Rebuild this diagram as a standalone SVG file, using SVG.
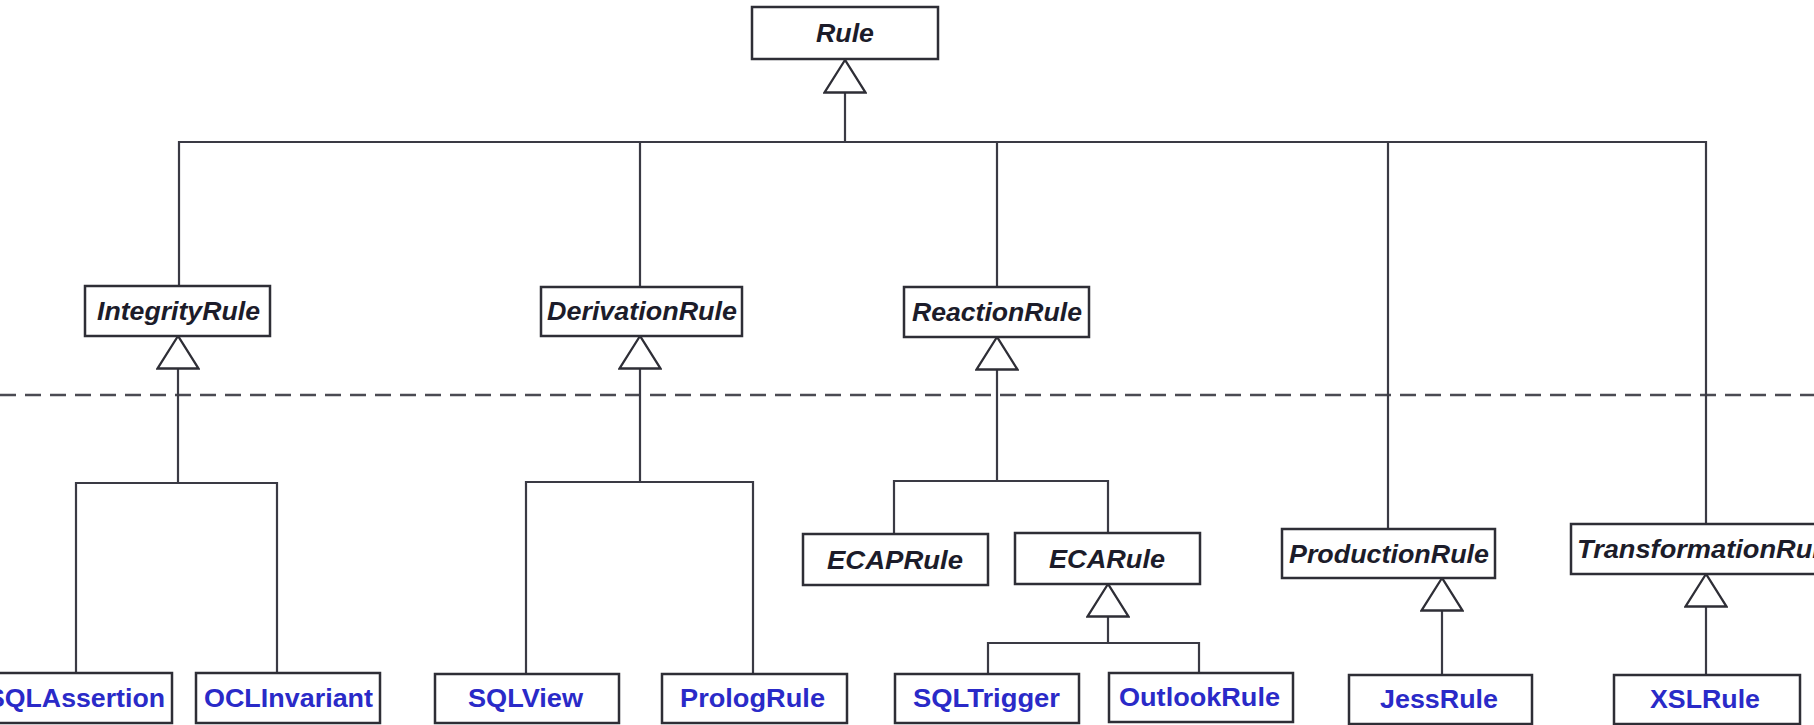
<svg xmlns="http://www.w3.org/2000/svg" width="1814" height="725" viewBox="0 0 1814 725">
  <style>
    .box { fill: #ffffff; stroke: #2e2e36; stroke-width: 2.5; }
    .abs { font-family: "Liberation Sans", Arial, sans-serif; font-size: 26px; font-weight: bold; font-style: italic; fill: #1c1c2a; text-anchor: middle; }
    .impl { font-family: "Liberation Sans", Arial, sans-serif; font-size: 26px; font-weight: bold; fill: #2a2ac8; text-anchor: middle; }
    .link { fill: none; stroke: #3a3a44; stroke-width: 2.2; }
    .gen { fill: none; stroke: #3a3a44; stroke-width: 2.2; marker-end: url(#inherit); }
    .layer { fill: none; stroke: #4a4a52; stroke-width: 2.5; stroke-dasharray: 16 9; }
  </style>
  <defs>
    <!-- hollow UML generalization triangle, tip at the line end -->
    <marker id="inherit" markerUnits="userSpaceOnUse" markerWidth="40" markerHeight="44" viewBox="-33 -21 35 42" refX="0" refY="0" orient="auto">
      <path d="M0,0 L-31,-19.5 L-31,19.5 Z" fill="#ffffff" stroke="#2e2e36" stroke-width="2.2"/>
    </marker>
  </defs>

  <rect width="1814" height="725" fill="#ffffff"/>

  <!-- layer separator -->
  <line class="layer" x1="0" y1="395" x2="1814" y2="395"/>

  <g id="connectors">
    <!-- Rule hierarchy -->
    <path class="gen" d="M845,142 V60"/>
    <path class="link" d="M179,286 V142 H1706 V524"/>
    <path class="link" d="M640,142 V287"/>
    <path class="link" d="M997,142 V287"/>
    <path class="link" d="M1388,142 V529"/>
    <!-- IntegrityRule -->
    <path class="gen" d="M178,483 V336"/>
    <path class="link" d="M76,673 V483 H277 V673"/>
    <!-- DerivationRule -->
    <path class="gen" d="M640,482 V336"/>
    <path class="link" d="M526,674 V482 H753 V674"/>
    <!-- ReactionRule -->
    <path class="gen" d="M997,481 V337"/>
    <path class="link" d="M894,534 V481 H1108 V533"/>
    <!-- ECARule -->
    <path class="gen" d="M1108,643 V584"/>
    <path class="link" d="M988,674 V643 H1199 V673"/>
    <!-- ProductionRule -->
    <path class="gen" d="M1442,675 V578"/>
    <!-- TransformationRule -->
    <path class="gen" d="M1706,675 V574"/>
  </g>

  <g id="Rule">
    <rect class="box" x="752" y="7" width="186" height="52"/>
    <text class="abs" x="845" y="42" textLength="58" lengthAdjust="spacingAndGlyphs">Rule</text>
  </g>

  <g id="IntegrityRule">
    <rect class="box" x="85" y="286" width="185" height="50"/>
    <text class="abs" x="178.5" y="320" textLength="163" lengthAdjust="spacingAndGlyphs">IntegrityRule</text>
  </g>
  <g id="DerivationRule">
    <rect class="box" x="541" y="287" width="201" height="49"/>
    <text class="abs" x="642" y="320" textLength="190" lengthAdjust="spacingAndGlyphs">DerivationRule</text>
  </g>
  <g id="ReactionRule">
    <rect class="box" x="904" y="287" width="185" height="50"/>
    <text class="abs" x="997" y="321" textLength="170" lengthAdjust="spacingAndGlyphs">ReactionRule</text>
  </g>

  <g id="ECAPRule">
    <rect class="box" x="803" y="534" width="185" height="51"/>
    <text class="abs" x="895" y="569" textLength="136" lengthAdjust="spacingAndGlyphs">ECAPRule</text>
  </g>
  <g id="ECARule">
    <rect class="box" x="1015" y="533" width="185" height="51"/>
    <text class="abs" x="1107" y="568" textLength="116" lengthAdjust="spacingAndGlyphs">ECARule</text>
  </g>
  <g id="ProductionRule">
    <rect class="box" x="1282" y="529" width="213" height="49"/>
    <text class="abs" x="1389" y="563" textLength="200" lengthAdjust="spacingAndGlyphs">ProductionRule</text>
  </g>
  <g id="TransformationRule">
    <rect class="box" x="1571" y="524" width="280" height="50"/>
    <text class="abs" x="1577" y="558" style="text-anchor:start" textLength="258" lengthAdjust="spacingAndGlyphs">TransformationRule</text>
  </g>

  <g id="SQLAssertion">
    <rect class="box" x="-12" y="673" width="184" height="50"/>
    <text class="impl" x="-13" y="707" style="text-anchor:start" textLength="178" lengthAdjust="spacingAndGlyphs">SQLAssertion</text>
  </g>
  <g id="OCLInvariant">
    <rect class="box" x="196" y="673" width="184" height="50"/>
    <text class="impl" x="288.5" y="707" textLength="169" lengthAdjust="spacingAndGlyphs">OCLInvariant</text>
  </g>
  <g id="SQLView">
    <rect class="box" x="435" y="674" width="184" height="49"/>
    <text class="impl" x="525.5" y="707" textLength="115" lengthAdjust="spacingAndGlyphs">SQLView</text>
  </g>
  <g id="PrologRule">
    <rect class="box" x="662" y="674" width="185" height="49"/>
    <text class="impl" x="752.5" y="707" textLength="145" lengthAdjust="spacingAndGlyphs">PrologRule</text>
  </g>
  <g id="SQLTrigger">
    <rect class="box" x="895" y="674" width="184" height="49"/>
    <text class="impl" x="986.5" y="707" textLength="147" lengthAdjust="spacingAndGlyphs">SQLTrigger</text>
  </g>
  <g id="OutlookRule">
    <rect class="box" x="1109" y="673" width="184" height="49"/>
    <text class="impl" x="1199.5" y="706" textLength="161" lengthAdjust="spacingAndGlyphs">OutlookRule</text>
  </g>
  <g id="JessRule">
    <rect class="box" x="1349" y="675" width="183" height="49"/>
    <text class="impl" x="1439" y="708" textLength="118" lengthAdjust="spacingAndGlyphs">JessRule</text>
  </g>
  <g id="XSLRule">
    <rect class="box" x="1614" y="675" width="186" height="49"/>
    <text class="impl" x="1705" y="708" textLength="110" lengthAdjust="spacingAndGlyphs">XSLRule</text>
  </g>
</svg>
